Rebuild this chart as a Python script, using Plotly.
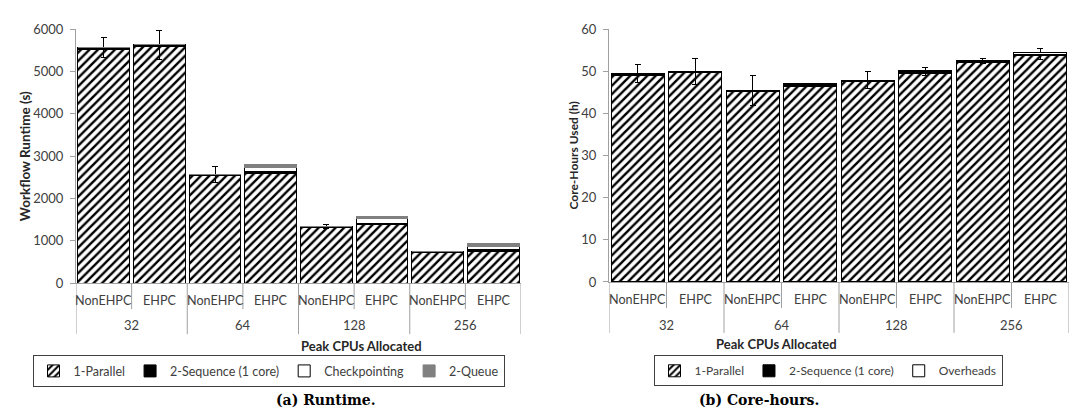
import numpy as np
import plotly.graph_objects as go

# ---------------- data ----------------
groups = ["32", "64", "128", "256"]
variants = ["NonEHPC", "EHPC"]

runtime_parallel = [5530, 5590, 2535, 2600, 1315, 1380, 715, 745]
runtime_sequence = [30, 40, 30, 40, 30, 40, 30, 45]
runtime_checkpointing = [0, 0, 0, 90, 0, 100, 0, 85]
runtime_queue = [0, 0, 0, 70, 0, 60, 0, 65]
runtime_err = [240, 335, 190, 20, 50, 30, 15, 20]

core_parallel = [49.1, 49.6, 45.2, 46.4, 47.6, 49.5, 52.2, 53.7]
core_sequence = [0.3, 0.3, 0.3, 0.4, 0.3, 0.4, 0.3, 0.4]
core_overheads = [0, 0.1, 0, 0.2, 0, 0.2, 0, 0.4]
core_err = [2.1, 3.1, 3.5, 0.4, 2.1, 0.9, 0.6, 1.2]

# ---------------- geometry helpers ----------------
W, H = 1079, 412
def py(p):  # pixel y -> paper
    return 1 - p / H
def px(p):
    return p / W

n = len(groups) * len(variants)
xpos = np.arange(n)
inner_labels = [v for g in groups for v in variants]

FONT = "Lato"
TXT = "#404040"
GRID = "#a0a0a0"

fig = go.Figure()

hatch = dict(shape="/", fgcolor="black", bgcolor="white", size=6, solidity=0.4, fgopacity=1)
line = dict(color="black", width=1)

# left chart traces
fig.add_trace(go.Bar(x=xpos, y=runtime_parallel, name="1-Parallel",
                     marker=dict(color="white", pattern=hatch, line=line),
                     xaxis="x", yaxis="y", legend="legend"))
fig.add_trace(go.Bar(x=xpos, y=runtime_sequence, name="2-Sequence (1 core)",
                     marker=dict(color="black", line=line),
                     error_y=dict(type="data", array=runtime_err, color="black", thickness=1, width=3),
                     xaxis="x", yaxis="y", legend="legend"))
fig.add_trace(go.Bar(x=xpos, y=runtime_checkpointing, name="Checkpointing",
                     marker=dict(color="white", line=line),
                     xaxis="x", yaxis="y", legend="legend"))
fig.add_trace(go.Bar(x=xpos, y=runtime_queue, name="2-Queue",
                     marker=dict(color="#808080", line=dict(color="#808080", width=1)),
                     xaxis="x", yaxis="y", legend="legend"))

# right chart traces
fig.add_trace(go.Bar(x=xpos, y=core_parallel, name="1-Parallel",
                     marker=dict(color="white", pattern=hatch, line=line),
                     xaxis="x2", yaxis="y2", legend="legend2"))
fig.add_trace(go.Bar(x=xpos, y=core_sequence, name="2-Sequence (1 core)",
                     marker=dict(color="black", line=line),
                     error_y=dict(type="data", array=core_err, color="black", thickness=1, width=3),
                     xaxis="x2", yaxis="y2", legend="legend2"))
fig.add_trace(go.Bar(x=xpos, y=core_overheads, name="Overheads",
                     marker=dict(color="white", line=line),
                     xaxis="x2", yaxis="y2", legend="legend2"))

# axes geometry (pixels)
L = dict(x0=68, x1=513, y0=278, y1=13.7)
R = dict(x0=601, x1=1061, y0=276.7, y1=13.7)

xcommon = dict(range=[-0.5, n - 0.5], showticklabels=False, ticks="", showline=True,
               linecolor=GRID, linewidth=1, showgrid=False, zeroline=False, fixedrange=True)
ycommon = dict(showline=True, linecolor=GRID, linewidth=1, ticks="outside", ticklen=5,
               tickcolor=GRID, showgrid=False, zeroline=False,
               tickfont=dict(family=FONT, size=13, color=TXT), ticklabelstandoff=4)

fig.update_layout(
    width=W, height=H, margin=dict(l=0, r=0, t=0, b=0),
    paper_bgcolor="white", plot_bgcolor="white",
    barmode="stack", bargap=0.07,
    font=dict(family=FONT, color=TXT),
    xaxis=dict(domain=[px(L["x0"]), px(L["x1"])], anchor="y", **xcommon),
    yaxis=dict(domain=[py(L["y0"]), py(L["y1"])], anchor="x", range=[0, 6000], dtick=1000, **ycommon),
    xaxis2=dict(domain=[px(R["x0"]), px(R["x1"])], anchor="y2", **xcommon),
    yaxis2=dict(domain=[py(R["y0"]), py(R["y1"])], anchor="x2", range=[0, 60], dtick=10, **ycommon),
    legend=dict(orientation="h", x=px(260.5), xanchor="center", y=py(353), yanchor="top",
                traceorder="normal",
                bordercolor="#404040", borderwidth=1, font=dict(family=FONT, size=12.5, color=TXT),
                itemclick=False, tracegroupgap=0),
    legend2=dict(orientation="h", x=px(820), xanchor="center", y=py(353), yanchor="top",
                 traceorder="normal",
                 bordercolor="#404040", borderwidth=1, font=dict(family=FONT, size=12, color=TXT),
                 itemclick=False, tracegroupgap=0),
    showlegend=True,
)

shapes = []
annotations = []
for xa, geo, inner_y, outer_y, title_y, ytitle, ytitle_x, ytitle_size, caption, cap_x in [
    ("x", L, 296, 322, 343, "Workflow Runtime (s)", 17, 13.5, "(a) Runtime.", 265.7),
    ("x2", R, 295, 321, 341, "Core-Hours Used (h)", 566, 12, "(b) Core-hours.", 813),
]:
    ybot = py(geo["y0"])
    # divider lines
    for b in range(n + 1):
        is_group = b % len(variants) == 0
        shapes.append(dict(type="line", xref=xa, yref="paper", x0=b - 0.5, x1=b - 0.5,
                           y0=ybot, y1=py(geo["y0"] + (53 if is_group else 27)),
                           line=dict(color=GRID, width=1)))
    for i, lab in enumerate(inner_labels):
        annotations.append(dict(xref=xa, yref="paper", x=xpos[i], y=py(inner_y), text=lab,
                                showarrow=False, yanchor="middle",
                                font=dict(family=FONT, size=12.6, color=TXT)))
    for gi, g in enumerate(groups):
        gx = (xpos[gi * len(variants)] + xpos[gi * len(variants) + len(variants) - 1]) / 2
        annotations.append(dict(xref=xa, yref="paper", x=gx, y=py(outer_y), text=g,
                                showarrow=False, yanchor="middle",
                                font=dict(family=FONT, size=13, color=TXT)))
    annotations.append(dict(xref="paper", yref="paper", x=px((geo["x0"] + geo["x1"]) / 2), y=py(title_y),
                            text="<b>Peak CPUs Allocated</b>", showarrow=False, yanchor="middle",
                            font=dict(family=FONT, size=13, color="#262626")))
    annotations.append(dict(xref="paper", yref="paper", x=px(ytitle_x), y=py((geo["y0"] + geo["y1"]) / 2),
                            text="<b>" + ytitle + "</b>", showarrow=False, textangle=-90,
                            xanchor="center", yanchor="middle",
                            font=dict(family=FONT, size=ytitle_size, color="#262626")))
    annotations.append(dict(xref="paper", yref="paper", x=px(cap_x), y=py(400), text="<b>" + caption + "</b>",
                            showarrow=False, yanchor="middle",
                            font=dict(family="DejaVu Serif", size=14, color="black")))

fig.update_layout(shapes=shapes, annotations=annotations)

fig.write_html("out.html")
